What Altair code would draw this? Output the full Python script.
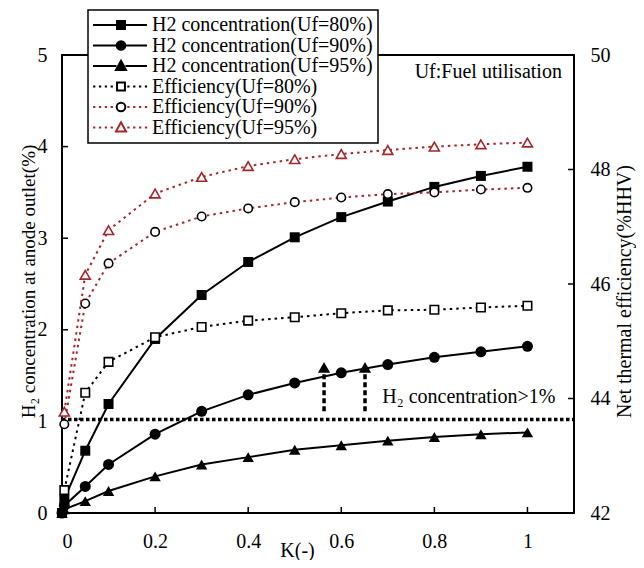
import altair as alt
import pandas as pd

# ---------------- data ----------------
K_H2 = [0, 0.005, 0.05, 0.1, 0.2, 0.3, 0.4, 0.5, 0.6, 0.7, 0.8, 0.9, 1.0]
H2_UF80 = [0, 0.15, 0.68, 1.19, 1.90, 2.38, 2.74, 3.01, 3.23, 3.40, 3.56, 3.68, 3.78]
H2_UF90 = [0, 0.08, 0.29, 0.53, 0.86, 1.11, 1.29, 1.42, 1.53, 1.62, 1.70, 1.76, 1.82]
H2_UF95 = [0, 0.04, 0.13, 0.24, 0.40, 0.53, 0.61, 0.69, 0.74, 0.79, 0.83, 0.86, 0.88]

K_EFF = [0.005, 0.05, 0.1, 0.2, 0.3, 0.4, 0.5, 0.6, 0.7, 0.8, 0.9, 1.0]
EFF_UF80 = [42.40, 44.10, 44.64, 45.07, 45.25, 45.36, 45.42, 45.49, 45.54, 45.55, 45.59, 45.62]
EFF_UF90 = [43.55, 45.66, 46.36, 46.91, 47.18, 47.32, 47.43, 47.51, 47.57, 47.60, 47.65, 47.68]
EFF_UF95 = [43.77, 46.16, 46.94, 47.58, 47.87, 48.06, 48.18, 48.27, 48.34, 48.40, 48.44, 48.47]

SERIES = [
    "H2 concentration(Uf=80%)",
    "H2 concentration(Uf=90%)",
    "H2 concentration(Uf=95%)",
    "Efficiency(Uf=80%)",
    "Efficiency(Uf=90%)",
    "Efficiency(Uf=95%)",
]

LIMIT_K = [0.0]
LIMIT_K2 = [1.1]
LIMIT_V = [1.02]
ARROW_K = [0.563, 0.651]
ARROW_FROM = [1.11, 1.11]
ARROW_TO = [1.52, 1.52]
ARROW_HEAD = [1.59, 1.59]

NOTE_K = [0.688, 1.074]
NOTE_V = [1.27, 4.81]
NOTE_TEXT = ["H\u2082 concentration>1%", "Uf:Fuel utilisation"]
NOTE_ALIGN = ["left", "right"]

X_TICKS = [0, 0.2, 0.4, 0.6, 0.8, 1.0]
X_INNER_TICKS = [0.2, 0.4, 0.6, 0.8, 1.0]
Y_LEFT_TICKS = [0, 1, 2, 3, 4, 5]
Y_LEFT_INNER = [1, 2, 3, 4]
Y_RIGHT_TICKS = [42, 44, 46, 48, 50]
Y_RIGHT_INNER = [44, 46, 48]

# ---------------- style ----------------
FONT = "Liberation Serif"
RED = "#a3262b"
W, H = 512, 458

x_axis = alt.Axis(values=X_TICKS, format=".1~f", labelFont=FONT, labelFontSize=20,
                  labelColor="black", labelPadding=18, tickSize=0, domain=False, grid=False,
                  titleFont=FONT, titleFontSize=20, titleFontWeight="normal", titleColor="black",
                  titleX=235, titleY=43, titleBaseline="alphabetic")
x_enc = alt.X("K:Q", scale=alt.Scale(domain=[0, 1.1], nice=False, zero=False),
              axis=x_axis, title="K(-)")

yl_axis = alt.Axis(values=Y_LEFT_TICKS, format="d", labelFont=FONT, labelFontSize=20,
                   labelColor="black", labelPadding=15, tickSize=0, domain=False, grid=False,
                   titleFont=FONT, titleFontSize=19, titleFontWeight="normal", titleColor="black",
                   titleAngle=270, titleX=-28, titleY=226, titleBaseline="alphabetic")
yl_title = "H\u2082 concentration at anode outlet(%)"
yl_scale = alt.Scale(domain=[0, 5], nice=False, zero=False)

yr_axis = alt.Axis(orient="right", values=Y_RIGHT_TICKS, format="d", labelFont=FONT,
                   labelFontSize=20, labelColor="black", labelPadding=16, tickSize=0,
                   domain=False, grid=False, titleFont=FONT, titleFontSize=20,
                   titleFontWeight="normal", titleColor="black", titleAngle=270,
                   titleX=56, titleY=236, titleBaseline="alphabetic")
yr_title = "Net thermal efficiency(%HHV)"
yr_scale = alt.Scale(domain=[42, 50], nice=False, zero=False)


def yl(field):
    return alt.Y(field, scale=yl_scale, axis=yl_axis, title=yl_title)


def yr(field):
    return alt.Y(field, scale=yr_scale, axis=yr_axis, title=yr_title)


# ---------------- left (H2) layers ----------------
left_layers = []
for vals, shape, size in [(H2_UF80, "square", 100), (H2_UF90, "circle", 121),
                          (H2_UF95, "triangle-up", 130)]:
    df = pd.DataFrame({"K": K_H2, "v": vals})
    base = alt.Chart(df)
    left_layers.append(base.mark_line(color="black", strokeWidth=2).encode(x=x_enc, y=yl("v:Q")))
    left_layers.append(base.mark_point(shape=shape, size=size, filled=True, color="black",
                                       opacity=1).encode(x=x_enc, y=yl("v:Q")))

limit_df = pd.DataFrame({"K": LIMIT_K, "K2": LIMIT_K2, "v": LIMIT_V})
left_layers.append(alt.Chart(limit_df).mark_rule(color="black", strokeWidth=3.5,
                                                 strokeDash=[3.5, 2.5]).encode(
    x=x_enc, x2="K2:Q", y=yl("v:Q")))

arrow_df = pd.DataFrame({"K": ARROW_K, "v": ARROW_FROM, "v2": ARROW_TO, "head": ARROW_HEAD})
left_layers.append(alt.Chart(arrow_df).mark_rule(color="black", strokeWidth=3.5,
                                                 strokeDash=[5, 3]).encode(
    x=x_enc, y=yl("v:Q"), y2="v2:Q"))
left_layers.append(alt.Chart(arrow_df).mark_point(shape="triangle-up", size=150, filled=True,
                                                  color="black", opacity=1).encode(
    x=x_enc, y=yl("head:Q")))

note_df = pd.DataFrame({"K": NOTE_K, "v": NOTE_V, "t": NOTE_TEXT, "a": NOTE_ALIGN})
left_layers.append(alt.Chart(note_df).transform_filter(alt.datum.a == "left").mark_text(
    align="left", baseline="middle", font=FONT, fontSize=20, color="black").encode(
    x=x_enc, y=yl("v:Q"), text="t:N"))
left_layers.append(alt.Chart(note_df).transform_filter(alt.datum.a == "right").mark_text(
    align="right", baseline="middle", font=FONT, fontSize=20, color="black").encode(
    x=x_enc, y=yl("v:Q"), text="t:N"))

# inward ticks
left_layers.append(alt.Chart(pd.DataFrame({"K": X_INNER_TICKS})).mark_rule(
    color="black", strokeWidth=1.5).encode(x=x_enc, y=alt.value(H), y2=alt.value(H - 6)))
left_layers.append(alt.Chart(pd.DataFrame({"v": Y_LEFT_INNER})).mark_rule(
    color="black", strokeWidth=1.5).encode(y=yl("v:Q"), x=alt.value(0), x2=alt.value(6)))

left = alt.layer(*left_layers)

# ---------------- right (efficiency) layers ----------------
right_layers = []
for vals, shape, size, col in [(EFF_UF80, "square", 72, "black"),
                               (EFF_UF90, "circle", 72, "black"),
                               (EFF_UF95, "triangle-up", 100, RED)]:
    line_col = "black" if vals is EFF_UF80 else RED
    df = pd.DataFrame({"K": K_EFF, "eff": vals})
    base = alt.Chart(df)
    right_layers.append(base.mark_line(color=line_col, strokeWidth=2,
                                       strokeDash=[2.5, 4]).encode(x=x_enc, y=yr("eff:Q")))
    right_layers.append(base.mark_point(shape=shape, size=size, filled=True, fill="white",
                                        stroke=col, strokeWidth=1.6, opacity=1).encode(
        x=x_enc, y=yr("eff:Q")))

right_layers.append(alt.Chart(pd.DataFrame({"eff": Y_RIGHT_INNER})).mark_rule(
    color="black", strokeWidth=1.5).encode(y=yr("eff:Q"), x=alt.value(W), x2=alt.value(W - 6)))

right = alt.layer(*right_layers)

# ---------------- legend (two overlaid legends: lines + markers) ----------------
def dots(starts, length):
    return "".join(f"M{s},0h{length}" for s in starts)

LINE_SOLID = "M-1.11,0H1.5M2.5,0H4.89"
LINE_DOT = dots([-1.1, -0.45, 0.2, 0.85], 0.25) + dots([2.7, 3.35, 4.0, 4.65], 0.25)
SQ = "M1.56,-0.44H2.44V0.44H1.56Z"
CI = "M2.48,0A0.48,0.48,0,1,1,1.52,0A0.48,0.48,0,1,1,2.48,0Z"
TR = "M2,-0.58L2.56,0.44L1.44,0.44Z"

leg_common = dict(orient="none", legendX=26, legendY=-45, title=None, labelFont=FONT,
                  labelFontSize=20, labelLimit=400, labelOffset=39, labelColor="black",
                  symbolSize=324, symbolStrokeWidth=2, rowPadding=0.5, padding=5,
                  symbolOpacity=1)
leg_lines = alt.Legend(strokeColor="black", fillColor="white", **leg_common)
leg_marks = alt.Legend(labelOpacity=0, **leg_common)

sdf = pd.DataFrame({"series": SERIES})
L1 = alt.Chart(sdf).mark_point(filled=False, opacity=1, clip=True).encode(
    x=alt.value(-40), y=alt.value(-40),
    shape=alt.Shape("series:N", scale=alt.Scale(domain=SERIES,
                    range=[LINE_SOLID] * 3 + [LINE_DOT] * 3), legend=leg_lines),
    stroke=alt.Stroke("series:N", scale=alt.Scale(domain=SERIES,
                      range=["black"] * 4 + [RED, RED]), legend=leg_lines),
)
L2 = alt.Chart(sdf).mark_point(opacity=1, clip=True).encode(
    x=alt.value(-40), y=alt.value(-40),
    shape=alt.Shape("series:N", scale=alt.Scale(domain=SERIES,
                    range=[SQ, CI, TR, SQ, CI, TR]), legend=leg_marks),
    stroke=alt.Stroke("series:N", scale=alt.Scale(domain=SERIES,
                      range=["black"] * 5 + [RED]), legend=leg_marks),
    fill=alt.Fill("series:N", scale=alt.Scale(domain=SERIES,
                  range=["black"] * 3 + ["white"] * 3), legend=leg_marks),
)

chart = alt.layer(left, right, L1, L2).resolve_scale(
    y="independent", shape="independent", stroke="independent", fill="independent"
).properties(
    width=W, height=H,
    padding={"left": 54, "top": 47, "right": 62, "bottom": 47},
    autosize=alt.AutoSizeParams(type="none"),
    background="white",
).configure_view(stroke="black", strokeWidth=2).configure_legend(strokeWidth=1.5)

chart.save("out.html", embed_options={"renderer": "svg", "actions": False})
